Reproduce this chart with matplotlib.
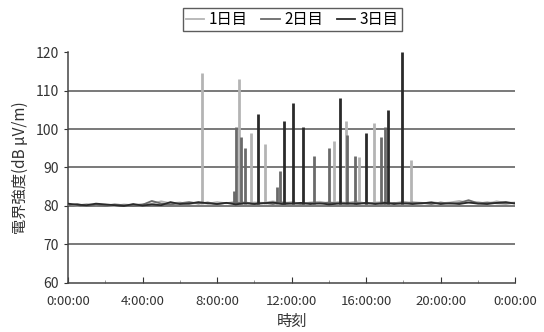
import matplotlib
matplotlib.use("Agg")
import matplotlib.pyplot as plt
import numpy as np

plt.rcParams['font.family'] = ['Noto Sans CJK JP', 'DejaVu Sans']

# sample times for the background level (hours)
base_t = np.arange(0, 24.01, 0.5)

day1_base = [80.4, 80.1, 80.5, 80.2, 80.3, 80.0, 80.4, 80.2, 80.5, 80.6,
             81.2, 80.7, 80.9, 80.5, 80.8, 80.6, 81.0, 80.7, 81.1, 80.6,
             80.9, 80.8, 81.2, 80.7, 81.0, 80.6, 80.9, 81.1, 80.7, 81.0,
             80.8, 81.2, 80.6, 80.9, 81.0, 80.7, 81.1, 80.8, 80.6, 81.0,
             80.7, 80.9, 81.3, 80.8, 81.0, 80.6, 81.2, 80.8, 80.9]
day2_base = [80.2, 80.5, 80.0, 80.3, 80.1, 80.4, 80.2, 80.0, 80.3, 81.3,
             80.6, 80.4, 80.7, 81.0, 80.6, 80.9, 80.5, 80.8, 80.7, 80.9,
             80.6, 80.8, 80.5, 80.9, 80.7, 80.5, 80.8, 80.6, 80.9, 80.7,
             80.5, 80.8, 80.6, 80.7, 80.5, 80.8, 80.6, 80.9, 80.8, 80.5,
             80.9, 80.6, 80.8, 81.5, 80.7, 80.9, 80.7, 80.6, 80.8]
day3_base = [80.6, 80.3, 80.2, 80.6, 80.4, 80.2, 80.0, 80.5, 80.1, 80.4,
             80.2, 81.0, 80.5, 80.6, 81.0, 80.7, 80.5, 80.8, 80.4, 80.7,
             80.5, 80.7, 80.9, 80.5, 80.6, 80.8, 80.5, 80.7, 80.4, 80.6,
             80.7, 80.5, 80.8, 80.5, 80.8, 80.5, 80.7, 80.5, 80.7, 80.9,
             80.5, 80.7, 80.5, 80.9, 80.6, 80.5, 80.8, 81.0, 80.6]

# interference peaks (hour, dBuV/m)
day1_peak_t = [7.2, 9.2, 9.8, 10.6, 14.3, 14.9, 15.6, 16.4, 18.4]
day1_peak_v = [114.5, 113.0, 99.0, 96.0, 97.0, 102.0, 92.7, 101.6, 92.0]
day2_peak_t = [8.9, 9.0, 9.3, 9.5, 11.2, 11.4, 13.2, 14.0, 15.0, 15.4, 16.8, 17.0]
day2_peak_v = [84.0, 100.5, 98.0, 95.0, 85.0, 89.0, 93.0, 95.0, 98.5, 93.0, 98.0, 100.5]
day3_peak_t = [10.2, 11.6, 12.1, 12.6, 14.6, 16.0, 17.2, 17.9]
day3_peak_v = [104.0, 102.0, 106.7, 100.5, 108.0, 99.0, 105.0, 120.0]

labels = ['1日目', '2日目', '3日目']
colors = ['#b4b4b4', '#6a6a6a', '#2a2a2a']

fig = plt.figure(figsize=(5.44, 3.32), dpi=100)
ax = fig.add_axes([0.125, 0.148, 0.822, 0.695])

series = [(day1_base, day1_peak_t, day1_peak_v),
          (day2_base, day2_peak_t, day2_peak_v),
          (day3_base, day3_peak_t, day3_peak_v)]
for (base, pt, pv), lab, c in zip(series, labels, colors):
    ax.plot(base_t, base, color=c, lw=1.3, label=lab, zorder=3)
    ax.vlines(pt, 80.5, pv, color=c, lw=2.0, zorder=3)

ax.set_xlim(0, 24)
ax.set_ylim(60, 120)
ax.set_yticks(range(60, 121, 10))
ax.set_xticks(range(0, 25, 4))
ax.set_xticklabels(['0:00:00', '4:00:00', '8:00:00', '12:00:00',
                    '16:00:00', '20:00:00', '0:00:00'])
ax.set_xticks(range(0, 25, 2), minor=True)
for y in range(70, 111, 10):
    ax.axhline(y, color='#555555', lw=1.1, zorder=1)

for s in ['top', 'right']:
    ax.spines[s].set_visible(False)
for s in ['left', 'bottom']:
    ax.spines[s].set_color('#444444')
    ax.spines[s].set_linewidth(1.1)
ax.tick_params(axis='x', direction='in', length=4, colors='#333333',
               labelsize=9.5, pad=9)
ax.tick_params(axis='x', which='minor', direction='in', length=2, color='#888888')
ax.tick_params(axis='y', direction='out', length=3, colors='#333333',
               labelsize=10)

ax.set_xlabel('時刻', fontsize=11, color='#333333', labelpad=3)
ax.set_ylabel('電界強度(dB μV/m)', fontsize=11, color='#333333', labelpad=5)

fig.legend(loc='center', bbox_to_anchor=(0.537, 0.94), ncol=3,
           frameon=True, fancybox=False, edgecolor='#333333',
           handlelength=1.2, handletextpad=0.3, columnspacing=0.9,
           fontsize=11, borderpad=0.2)

fig.savefig('out.png', dpi=100)
